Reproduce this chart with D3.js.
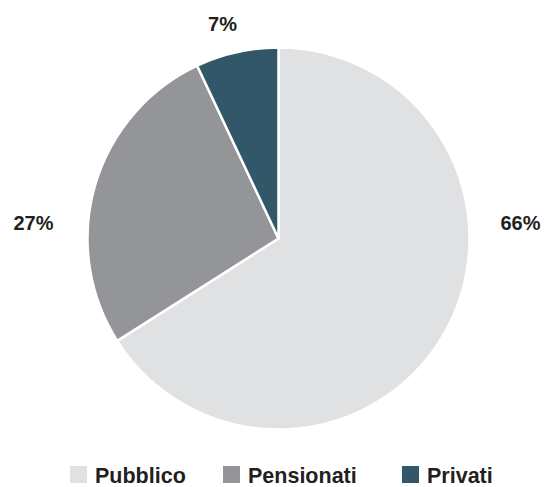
<!DOCTYPE html>
<html>
<head>
<meta charset="utf-8">
<script src="https://cdn.jsdelivr.net/npm/d3@7"></script>
<style>
  html, body { margin: 0; padding: 0; background: #ffffff; }
  svg { display: block; }
  text { font-family: "Liberation Sans", Arial, sans-serif; font-weight: bold; fill: #231f20; }
</style>
</head>
<body>
<svg id="chart" width="545" height="487"></svg>
<script>
const categories = ["Pubblico", "Pensionati", "Privati"];
const values = [66, 27, 7];
const labels = ["66%", "27%", "7%"];
const colors = ["#e0e1e3", "#939598", "#325769"];

const svg = d3.select("#chart");
const cx = 278.5, cy = 238.5, radius = 191;

const data = categories.map((c, i) => ({ name: c, value: values[i], label: labels[i], color: colors[i] }));

const pie = d3.pie().value(d => d.value).sort(null).startAngle(0).endAngle(2 * Math.PI);
const arc = d3.arc().innerRadius(0).outerRadius(radius);
const arcs = pie(data);

const g = svg.append("g").attr("transform", `translate(${cx},${cy})`);

g.selectAll("path.slice")
  .data(arcs)
  .join("path")
  .attr("class", "slice")
  .attr("d", arc)
  .attr("fill", d => d.data.color)
  .attr("stroke", "#ffffff")
  .attr("stroke-width", 2.5)
  .attr("stroke-linejoin", "round");

// Label placement (outside the pie)
function labelPos(d, i) {
  if (i === 0) return [radius + 51, -9];
  if (i === 1) return [-(radius + 54), -9];
  return [-56, -(radius + 17)];
}

g.selectAll("text.lbl")
  .data(arcs)
  .join("text")
  .attr("class", "lbl")
  .attr("x", (d, i) => labelPos(d, i)[0])
  .attr("y", (d, i) => labelPos(d, i)[1])
  .attr("text-anchor", "middle")
  .attr("font-size", 20)
  .text(d => d.data.label);

// Legend
const legendX = [70, 223, 402];
const legend = svg.append("g").attr("transform", "translate(0,466)");
const items = legend.selectAll("g.item")
  .data(data)
  .join("g")
  .attr("class", "item")
  .attr("transform", (d, i) => `translate(${legendX[i]},0)`);

items.append("rect")
  .attr("width", 17)
  .attr("height", 17)
  .attr("fill", d => d.color);

items.append("text")
  .attr("x", 25)
  .attr("y", 17)
  .attr("font-size", 21.5)
  .text(d => d.name);
</script>
</body>
</html>
